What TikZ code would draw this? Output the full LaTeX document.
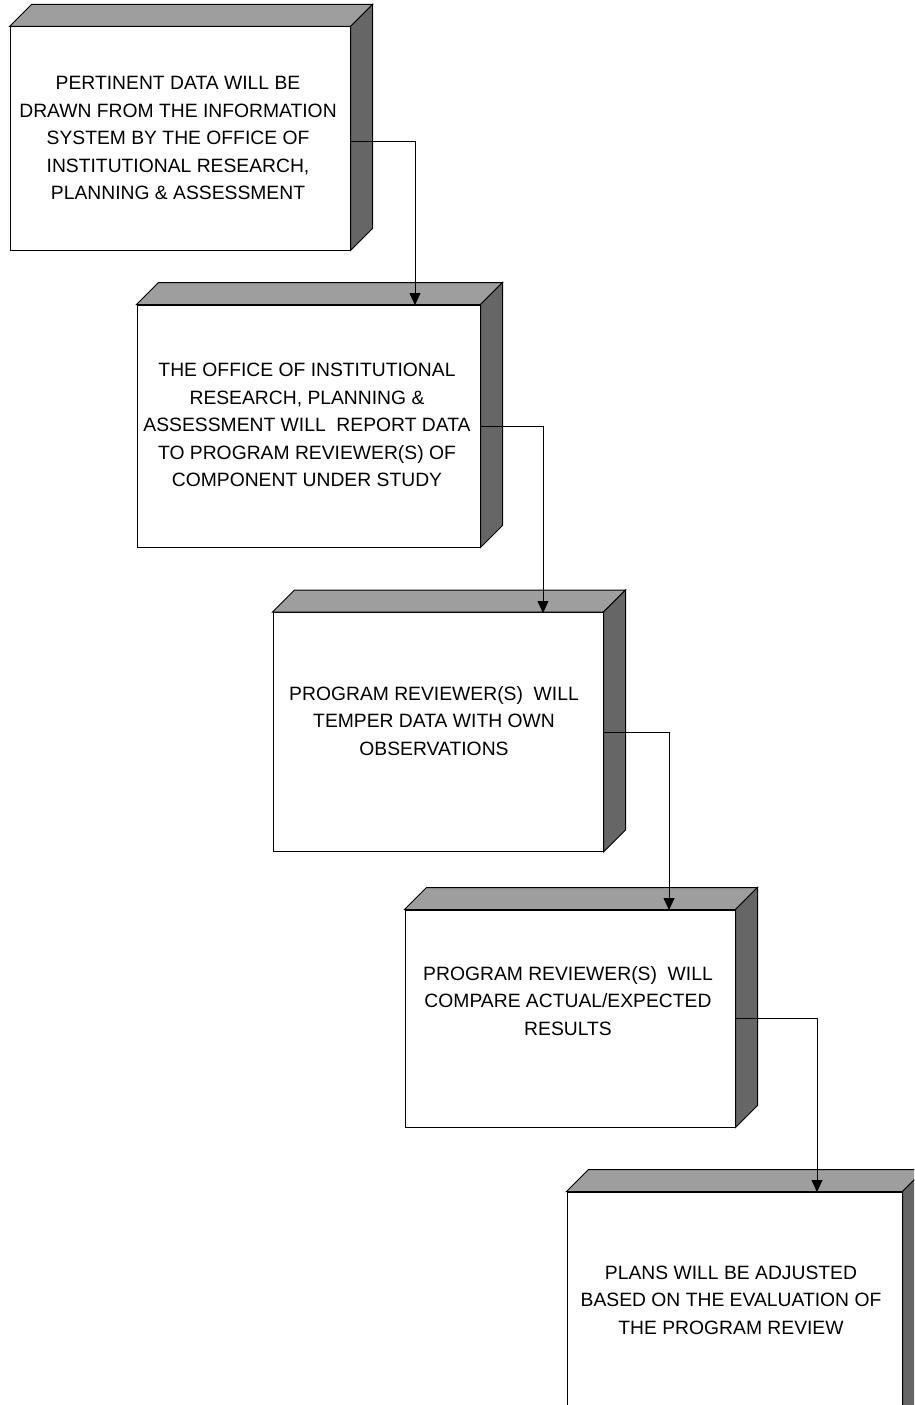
\documentclass[tikz,border=0pt]{standalone}
\usepackage{fontspec}
\setmainfont{Liberation Sans}
\usetikzlibrary{arrows.meta}
\begin{document}
\begin{tikzpicture}[x=1pt,y=-1pt,
  front/.style={draw,fill=white,line width=1pt,inner sep=0pt,rectangle},
  topface/.style={draw,fill=black!38,line width=1pt,line join=miter},
  sideface/.style={draw,fill=black!60,line width=1pt,line join=miter},
  txt/.style={align=center,font=\fontsize{19.3}{27.5}\selectfont,inner sep=0pt},
  conn/.style={draw,line width=0.8pt,-{Triangle[width=11pt,length=12pt]}}]
\useasboundingbox (0,0) rectangle (914,1405);
\clip (0,0) rectangle (914,1405);
\fill[white] (0,0) rectangle (914,1405);
\newcommand\cubefaces[1]{%
  \draw[topface] (#1.north west) -- (#1.north east) -- ([shift={(22,-22)}]#1.north east) -- ([shift={(22,-22)}]#1.north west) -- cycle;
  \draw[sideface] (#1.north east) -- ([shift={(22,-22)}]#1.north east) -- ([shift={(22,-22)}]#1.south east) -- (#1.south east) -- cycle;
}
% front faces
\node[front,minimum width=340pt,minimum height=223pt] (b1) at (180,138.5) {};
\node[front,minimum width=343pt,minimum height=242pt] (b2) at (308.5,426) {};
\node[front,minimum width=330pt,minimum height=239pt] (b3) at (438,732) {};
\node[front,minimum width=330pt,minimum height=217pt] (b4) at (570,1018.5) {};
\node[front,minimum width=335pt,minimum height=250pt] (b5) at (734.5,1317) {};
\cubefaces{b1}
\cubefaces{b2}
\cubefaces{b3}
\cubefaces{b4}
\cubefaces{b5}
% texts
\node[txt] (t1) at (178,138) {PERTINENT DATA WILL BE\\DRAWN FROM THE INFORMATION\\SYSTEM BY THE OFFICE OF\\INSTITUTIONAL RESEARCH,\\PLANNING \& ASSESSMENT};
\node[txt] (t2) at (307,425) {THE OFFICE OF INSTITUTIONAL\\RESEARCH, PLANNING \&\\ASSESSMENT WILL\ \ REPORT DATA\\TO PROGRAM REVIEWER(S) OF\\COMPONENT UNDER STUDY};
\node[txt] (t3) at (434,721) {PROGRAM REVIEWER(S)\ \ WILL\\TEMPER DATA WITH OWN\\OBSERVATIONS};
\node[txt] (t4) at (568,1001) {PROGRAM REVIEWER(S)\ \ WILL\\COMPARE ACTUAL/EXPECTED\\RESULTS};
\node[txt] (t5) at (731,1300) {PLANS WILL BE ADJUSTED\\BASED ON THE EVALUATION OF\\THE PROGRAM REVIEW};
% connectors
\coordinate (e2) at (415,305);
\coordinate (e3) at (543,613);
\coordinate (e4) at (669,910);
\coordinate (e5) at (817,1192);
\draw[conn] ([yshift=-3pt]b1.east) -| (e2);
\draw[conn] (b2.east) -| (e3);
\draw[conn] (b3.east) -| (e4);
\draw[conn] (b4.east) -| (e5);
\end{tikzpicture}
\end{document}
